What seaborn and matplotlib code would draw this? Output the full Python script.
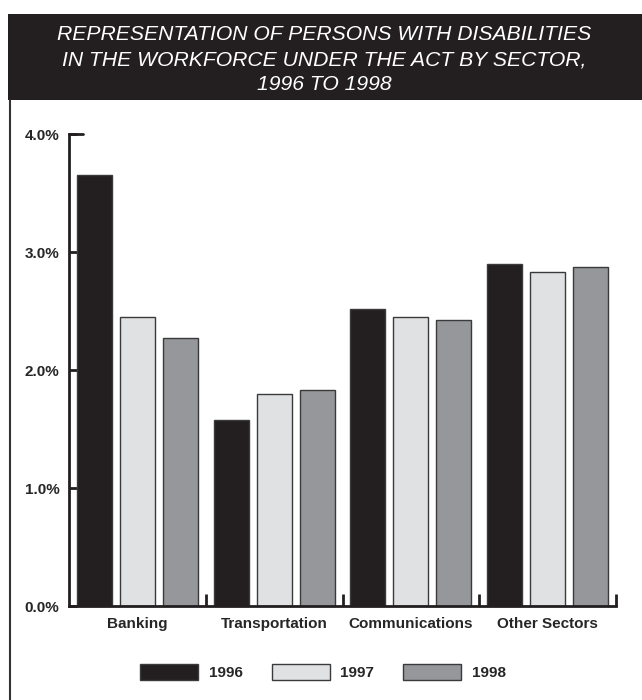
import pandas as pd
import numpy as np
import matplotlib.pyplot as plt
import seaborn as sns
from matplotlib.patches import Rectangle, Patch
from matplotlib.lines import Line2D

sns.set_style('white')
plt.rcParams['font.family'] = ['Liberation Sans', 'DejaVu Sans']

# Data (percent of workforce)
sectors = ['Banking', 'Transportation', 'Communications', 'Other Sectors']
years = ['1996', '1997', '1998']
values_1996 = [3.65, 1.58, 2.52, 2.90]
values_1997 = [2.45, 1.80, 2.45, 2.83]
values_1998 = [2.27, 1.83, 2.42, 2.87]
colors = ['#231f20', '#e0e1e3', '#96979b']
y_ticks = [0.0, 1.0, 2.0, 3.0, 4.0]

df = pd.DataFrame({
    'sector': sectors * 3,
    'year': [y for y in years for _ in sectors],
    'value': values_1996 + values_1997 + values_1998,
})

W, H = 642, 700
fig = plt.figure(figsize=(W / 100, H / 100), dpi=100)

# black title band and left frame line
fig.patches.append(Rectangle((8 / W, 1 - 100 / H), 1, 86 / H, transform=fig.transFigure,
                             facecolor='#231f20', edgecolor='none', zorder=0))
fig.lines.append(Line2D([10 / W, 10 / W], [0, 1 - 100 / H], transform=fig.transFigure,
                        color='#333333', lw=1.5))
title_lines = ['REPRESENTATION OF PERSONS WITH DISABILITIES',
               'IN THE WORKFORCE UNDER THE ACT BY SECTOR,',
               '1996 TO 1998']
for i, line in enumerate(title_lines):
    fig.text(324 / W, 1 - (35 + 25 * i) / H, line, ha='center', va='center',
             color='white', fontsize=15.2, style='italic')

ax = fig.add_axes([69 / W, 1 - 606 / H, 547 / W, 472 / H])
sns.barplot(data=df, x='sector', y='value', hue='year', palette=colors,
            width=0.943, gap=0.19, edgecolor='#3a3a3a', linewidth=1,
            saturation=1, ax=ax, legend=False)

ax.set_xlim(-0.5, 3.5)
ax.set_ylim(0, 4.0)
ax.set_yticks(y_ticks)
ax.set_yticklabels([f'{t:.1f}%' for t in y_ticks], fontweight='bold', fontsize=11)
ax.set_xticks(range(len(sectors)))
ax.set_xticklabels(sectors, fontweight='bold', fontsize=11)
ax.set_xticks([0.5, 1.5, 2.5, 3.5], minor=True)
ax.set_xlabel('')
ax.set_ylabel('')

for s in ['top', 'right']:
    ax.spines[s].set_visible(False)
for s in ['left', 'bottom']:
    ax.spines[s].set_color('#231f20')
    ax.spines[s].set_linewidth(2)

ax.tick_params(axis='y', left=True, direction='in', length=6, width=2,
               color='#231f20', pad=7)
ax.tick_params(axis='x', which='major', bottom=True, length=0, pad=8)
ax.tick_params(axis='x', which='minor', bottom=True, direction='in', length=9,
               width=2, color='#231f20')
# longer cap at the top of the y axis
ax.axhline(4.0, xmin=0, xmax=14 / 547, color='#231f20', lw=2, clip_on=False)

handles = [Patch(facecolor=c, edgecolor='#3a3a3a', linewidth=1) for c in colors]
fig.legend(handles, years, loc='center', bbox_to_anchor=(323 / W, 1 - 672 / H),
           ncol=3, frameon=False, prop={'weight': 'bold', 'size': 11},
           handlelength=3.8, handleheight=1.3, handletextpad=0.7, columnspacing=1.9)

fig.savefig('out.png', dpi=100, facecolor='white')
